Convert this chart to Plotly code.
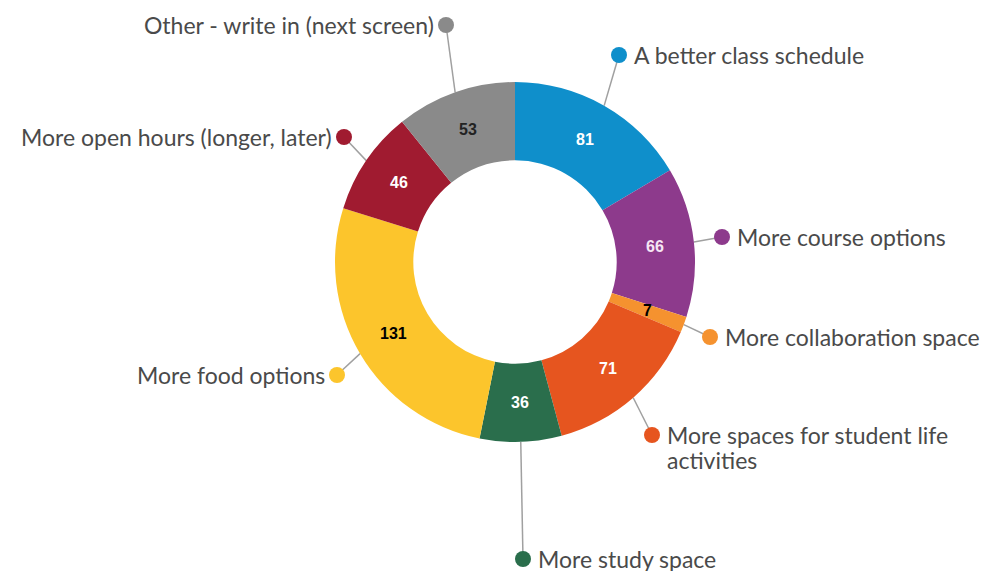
import math
import plotly.graph_objects as go

# survey answers, clockwise from 12 o'clock
categories = [
    "A better class schedule",
    "More course options",
    "More collaboration space",
    "More spaces for student life activities",
    "More study space",
    "More food options",
    "More open hours (longer, later)",
    "Other - write in (next screen)",
]
counts = [81, 66, 7, 71, 36, 131, 46, 53]
# callout text, wrapped as in the original
label_lines = [
    ["A better class schedule"],
    ["More course options"],
    ["More collaboration space"],
    ["More spaces for student life", "activities"],
    ["More study space"],
    ["More food options"],
    ["More open hours (longer, later)"],
    ["Other - write in (next screen)"],
]

colors = ["#0f8fcb", "#8d3a8c", "#f5922f", "#e6551f", "#2a6e4c", "#fcc52c", "#a01b30", "#8a8a8a"]
value_colors = ["white", "#f6e6f4", "black", "white", "white", "black", "white", "#222222"]

# --- layout (pixels) ---
W, H = 997, 571
cx, cy, R = 515, 262, 180
HOLE = 0.565
# dot positions for the callouts, and which side the text goes
dots = [(619, 55), (722, 237), (710, 337), (652, 435), (523, 559), (337, 375), (344, 137), (446, 25)]
sides = ["r", "r", "r", "r", "r", "l", "l", "l"]
LINE_GAP = 25

fig = go.Figure()

fig.add_trace(go.Pie(
    labels=categories, values=counts, sort=False, direction="clockwise", rotation=0,
    hole=HOLE, marker=dict(colors=colors, line=dict(width=0)),
    textinfo="none", hoverinfo="label+value", showlegend=False,
    domain=dict(x=[(cx - R) / W, (cx + R) / W], y=[(H - cy - R) / H, (H - cy + R) / H]),
))

total = sum(counts)
cum = 0
annotations = []
label_font = dict(family="Lato", size=23, color="#4a4a4a")
for i, v in enumerate(counts):
    mid = math.radians((cum + v / 2) / total * 360)
    cum += v
    # value inside ring
    rm = R * (1 + HOLE) / 2
    annotations.append(dict(
        x=cx + rm * math.sin(mid), y=cy - rm * math.cos(mid), text="<b>%d</b>" % v, showarrow=False,
        font=dict(family="Liberation Sans, Arial", size=16, color=value_colors[i]),
        xref="x", yref="y",
    ))
    # leader line from outer edge to dot
    dx, dy = dots[i]
    ex, ey = cx + R * math.sin(mid), cy - R * math.cos(mid)
    fig.add_trace(go.Scatter(
        x=[ex, dx], y=[ey, dy], mode="lines", line=dict(color="#a0a0a0", width=1.5),
        hoverinfo="skip", showlegend=False,
    ))
    fig.add_trace(go.Scatter(
        x=[dx], y=[dy], mode="markers", marker=dict(size=16, color=colors[i]),
        hoverinfo="skip", showlegend=False,
    ))
    for k, line in enumerate(label_lines[i]):
        annotations.append(dict(
            x=dx + 13 if sides[i] == "r" else dx - 10, y=dy + k * LINE_GAP,
            xanchor="left" if sides[i] == "r" else "right", yanchor="middle",
            text=line, showarrow=False, font=label_font, xref="x", yref="y",
        ))

fig.update_layout(
    width=W, height=H, margin=dict(l=0, r=0, t=0, b=0),
    paper_bgcolor="white", plot_bgcolor="rgba(0,0,0,0)",
    xaxis=dict(range=[0, W], visible=False, fixedrange=True),
    yaxis=dict(range=[H, 0], visible=False, fixedrange=True),
    annotations=annotations,
)

fig.write_html("out.html", config={"displayModeBar": False},
               post_script="document.body.style.margin='0';")
